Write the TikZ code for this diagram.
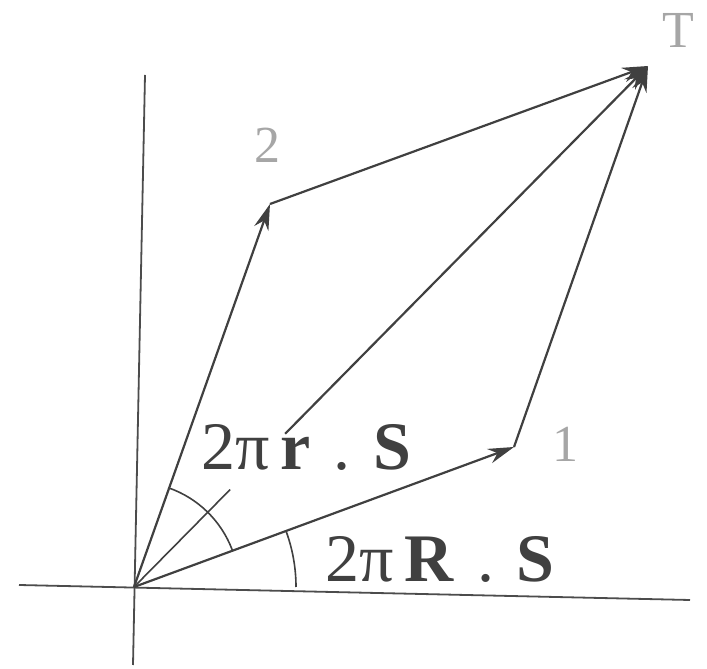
\documentclass[tikz,border=0pt]{standalone}
\usepackage{fontspec}
\setmainfont{Liberation Serif}
\usetikzlibrary{arrows.meta,calc}
\begin{document}
\begin{tikzpicture}[x=1pt,y=1pt,
  ln/.style={draw=black!75,line width=2.2pt},
  vec/.style={ln,-{Stealth[length=26pt,width=15pt]}},
  ax/.style={draw=black!70,line width=1.8pt},
  big/.style={font=\fontsize{68}{68}\selectfont,text=black!75,inner sep=0pt,anchor=base},
  pt/.style={font=\fontsize{52}{52}\selectfont,text=black!35,inner sep=0pt}]
\useasboundingbox (0,0) rectangle (707,669);
\coordinate (O) at (134,82);
\coordinate (P1) at (514,222);
\coordinate (P2) at (270,465);
\coordinate (T) at (648,603);
\coordinate (hl) at (19,84);
\coordinate (hr) at (690,69);
\coordinate (vt) at (145,594);
\coordinate (vb) at (133,4);
\draw[ax] (hl) -- (hr);
\draw[ax] (vt) -- (vb);
\draw[vec] (O) -- (P1);
\draw[vec] (O) -- (P2);
\draw[vec] (P2) -- (T);
\draw[vec] (P1) -- (T);
\coordinate (d1) at ($(O)!0.187!(T)$);
\coordinate (d2) at ($(O)!0.294!(T)$);
\draw[ln,line width=1.6pt] (O) -- (d1);
\draw[vec] (d2) -- (T);
\draw[ln,line width=1.6pt] ($(O)+(20.5:105)$) arc[start angle=20.5,end angle=71,radius=105];
\draw[ln,line width=1.6pt] ($(O)+(0:162)$) arc[start angle=0,end angle=20.5,radius=162];
\node[big] (lr) at (306,199) {2π\,\textbf{r}\,\,.\,\,\textbf{S}};
\node[big] (lR) at (440,87) {2π\,\textbf{R}\,\,.\,\,\textbf{S}};
\node[pt] (n1) at (565,225) {1};
\node[pt] (n2) at (267,524) {2};
\node[pt] (nT) at (678,639) {T};
\end{tikzpicture}
\end{document}
